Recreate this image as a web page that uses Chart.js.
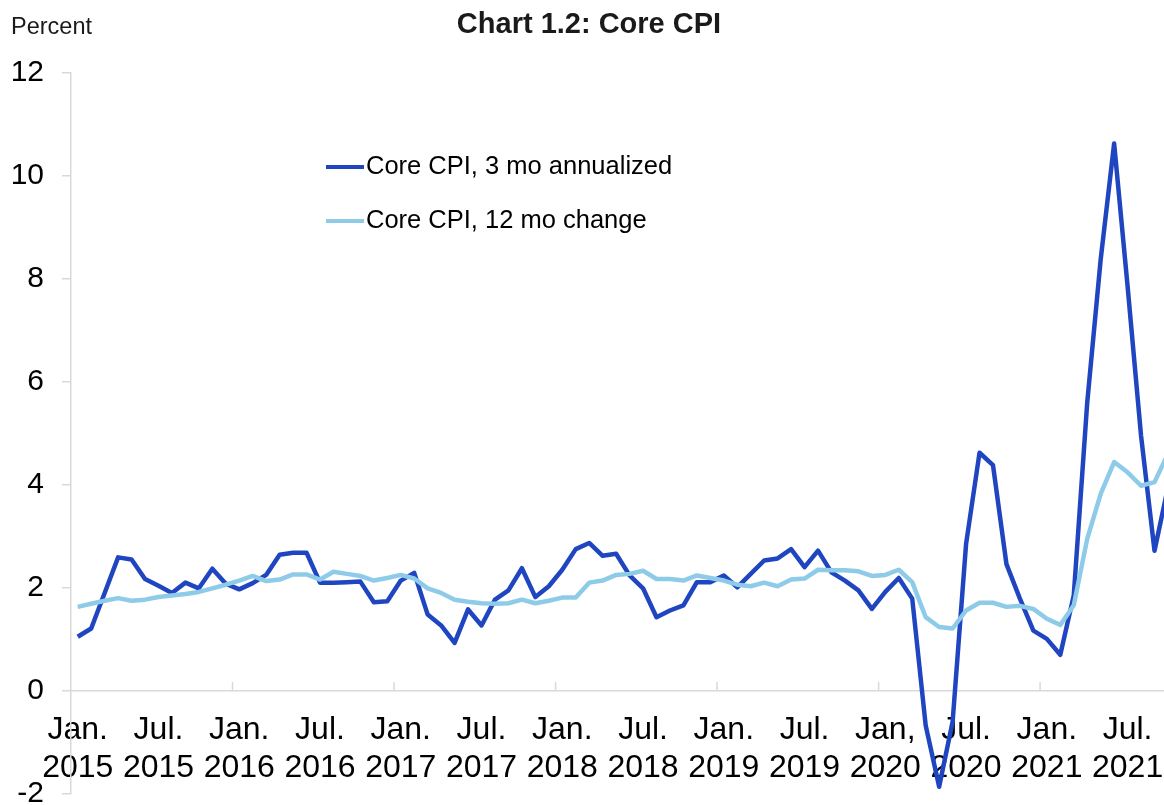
<!DOCTYPE html>
<html>
<head>
<meta charset="utf-8">
<script src="https://cdn.jsdelivr.net/npm/chart.js@4.4.0/dist/chart.umd.min.js"></script>
<style>
  body { margin: 0; background: #fff; }
  #wrap { width: 1164px; height: 805px; overflow: hidden; position: relative; }
  canvas { display: block; }
</style>
</head>
<body>
<div id="wrap"><canvas id="cpi" width="1176" height="830"></canvas></div>
<script>
// months Jan 2015 .. Oct 2021
const years = [2015, 2016, 2017, 2018, 2019, 2020, 2021];
const monthNames = ['Jan', 'Feb', 'Mar', 'Apr', 'May', 'Jun', 'Jul', 'Aug', 'Sep', 'Oct', 'Nov', 'Dec'];
const categories = [];
years.forEach(yr => monthNames.forEach(m => {
    if (yr < 2021 || monthNames.indexOf(m) < 10) categories.push(m + ' ' + yr);
}));

// one label every 6 months
const tickLabels = [
    ['Jan.', '2015'], ['Jul.', '2015'],
    ['Jan.', '2016'], ['Jul.', '2016'],
    ['Jan.', '2017'], ['Jul.', '2017'],
    ['Jan.', '2018'], ['Jul.', '2018'],
    ['Jan.', '2019'], ['Jul.', '2019'],
    ['Jan,', '2020'], ['Jul.', '2020'],
    ['Jan.', '2021'], ['Jul.', '2021']
];

const core3mo = [
    1.05, 1.21, 1.90, 2.59, 2.55, 2.17, 2.04, 1.90, 2.10, 1.99,
    2.37, 2.08, 1.97, 2.09, 2.25, 2.64, 2.68, 2.68, 2.10, 2.10,
    2.11, 2.12, 1.72, 1.74, 2.14, 2.29, 1.48, 1.27, 0.93, 1.58,
    1.27, 1.77, 1.95, 2.38, 1.82, 2.03, 2.35, 2.75, 2.87, 2.62,
    2.66, 2.24, 1.99, 1.43, 1.56, 1.66, 2.11, 2.11, 2.24, 2.01,
    2.27, 2.53, 2.57, 2.75, 2.40, 2.72, 2.30, 2.14, 1.95, 1.59,
    1.92, 2.19, 1.79, -0.67, -1.86, -0.60, 2.85, 4.62, 4.38, 2.46,
    1.79, 1.17, 1.01, 0.70, 1.85, 5.59, 8.37, 10.62, 7.85, 4.95,
    2.72, 3.95
];

const core12mo = [
    1.63, 1.69, 1.75, 1.80, 1.75, 1.77, 1.82, 1.85, 1.88, 1.92,
    1.99, 2.06, 2.14, 2.23, 2.13, 2.16, 2.26, 2.26, 2.16, 2.31,
    2.27, 2.23, 2.14, 2.19, 2.25, 2.18, 1.99, 1.90, 1.77, 1.73,
    1.70, 1.69, 1.70, 1.77, 1.70, 1.75, 1.81, 1.81, 2.10, 2.14,
    2.25, 2.27, 2.33, 2.17, 2.17, 2.14, 2.24, 2.19, 2.14, 2.06,
    2.03, 2.10, 2.03, 2.16, 2.18, 2.35, 2.34, 2.34, 2.32, 2.23,
    2.25, 2.35, 2.11, 1.43, 1.24, 1.21, 1.56, 1.71, 1.71, 1.63,
    1.65, 1.59, 1.40, 1.28, 1.66, 2.95, 3.82, 4.44, 4.24, 3.98,
    4.05, 4.60
];

const FONT = '"Liberation Sans", Arial, sans-serif';
const AXIS_GREY = '#d9d9d9';

// title, unit label, legend and year tick marks
const decor = {
    id: 'decor',
    beforeDatasetsDraw(chart) {
        const {ctx, scales: {x, y}} = chart;
        const y0 = y.getPixelForValue(0);
        ctx.save();
        ctx.strokeStyle = AXIS_GREY;
        ctx.lineWidth = 1.5;
        for (let i = 12; i < categories.length; i += 12) {
            const px = (x.getPixelForValue(i - 1) + x.getPixelForValue(i)) / 2;
            ctx.beginPath();
            ctx.moveTo(px, y0);
            ctx.lineTo(px, y0 - 9);
            ctx.stroke();
        }
        ctx.restore();
    },
    afterDraw(chart) {
        const ctx = chart.ctx;
        ctx.save();
        ctx.fillStyle = '#1a1a1a';
        ctx.textBaseline = 'middle';
        ctx.textAlign = 'center';
        ctx.font = 'bold 29px ' + FONT;
        ctx.fillText('Chart 1.2: Core CPI', 589, 25);
        ctx.textAlign = 'left';
        ctx.font = '23.5px ' + FONT;
        ctx.fillText('Percent', 11, 28);

        // legend
        const rows = [167, 221];
        chart.data.datasets.forEach((ds, k) => {
            const yy = rows[k];
            ctx.strokeStyle = ds.borderColor;
            ctx.lineWidth = 4;
            ctx.beginPath();
            ctx.moveTo(326, yy);
            ctx.lineTo(364, yy);
            ctx.stroke();
            ctx.fillStyle = '#000';
            ctx.font = '25.5px ' + FONT;
            ctx.fillText(ds.label, 366, yy);
        });
        ctx.restore();
    }
};

new Chart(document.getElementById('cpi').getContext('2d'), {
    type: 'line',
    data: {
        labels: categories,
        datasets: [{
            label: 'Core CPI, 3 mo annualized',
            data: core3mo,
            borderColor: '#1f46c0',
            borderWidth: 4.5,
            borderJoinStyle: 'round',
            pointRadius: 0,
            tension: 0,
            order: 2
        }, {
            label: 'Core CPI, 12 mo change',
            data: core12mo,
            borderColor: '#8ecbe9',
            borderWidth: 4.5,
            borderJoinStyle: 'round',
            pointRadius: 0,
            tension: 0,
            order: 1
        }]
    },
    options: {
        responsive: false,
        animation: false,
        layout: { padding: { top: 72.3, bottom: 34.4, left: 0, right: 1.3 } },
        plugins: {
            legend: { display: false },
            title: { display: false },
            tooltip: { enabled: false }
        },
        scales: {
            x: {
                type: 'category',
                offset: true,
                position: { y: 0 },
                afterFit: s => { s.height = 0; s.paddingLeft = 0; s.paddingRight = 0; },
                grid: { drawOnChartArea: false, drawTicks: false },
                border: { display: true, color: AXIS_GREY, width: 1.5 },
                ticks: {
                    autoSkip: false,
                    maxRotation: 0,
                    padding: 21,
                    color: '#000',
                    font: { family: FONT, size: 32, lineHeight: 1.17 },
                    callback: (v, i) => (i % 6 === 0 ? tickLabels[i / 6] : '')
                }
            },
            y: {
                min: -2,
                max: 12,
                afterFit: s => { s.width = 71; },
                grid: { drawOnChartArea: false, tickLength: 9, color: AXIS_GREY, lineWidth: 1.5 },
                border: { display: true, color: AXIS_GREY, width: 1.5 },
                ticks: {
                    stepSize: 2,
                    padding: 18,
                    color: '#000',
                    font: { family: FONT, size: 30 }
                }
            }
        }
    },
    plugins: [decor]
});
</script>
</body>
</html>
